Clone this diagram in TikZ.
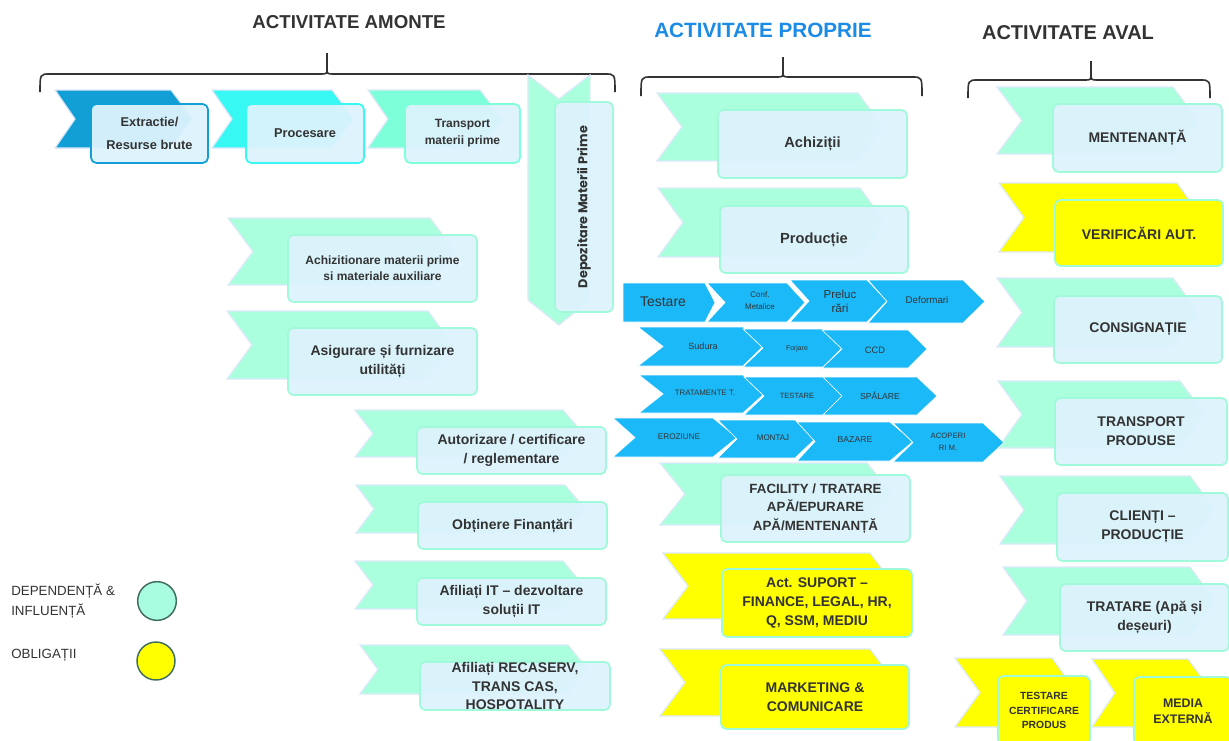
\documentclass[tikz,border=0pt]{standalone}
\usepackage{fontspec}
\setmainfont{Liberation Sans}
\newfontfamily\popp{Poppins}
\usetikzlibrary{fit}
\definecolor{tdark}{HTML}{333333}
\definecolor{tblue}{HTML}{1A8BE6}
\definecolor{mint}{HTML}{AAFFDD}
\definecolor{mintb}{HTML}{A0FADA}
\definecolor{boxf}{HTML}{DDF3FD}
\definecolor{chline}{HTML}{DCE8FA}
\definecolor{dblue}{HTML}{129FD6}
\definecolor{cyanc}{HTML}{38F8F4}
\definecolor{aqua}{HTML}{7DFFD9}
\definecolor{skyb}{HTML}{1CB9F8}
\definecolor{yel}{HTML}{FFFF00}
\definecolor{legg}{HTML}{3F6E5E}
\definecolor{legm}{HTML}{A8FCE0}
\newcommand\fsz[2]{\fontsize{#1}{#2}\selectfont}
\tikzset{
 chev/.style={fill=mint, draw=chline, line width=0.9pt, line join=miter},
 ychev/.style={chev, fill=yel},
 bchev/.style={fill=skyb, draw=white, line width=0.5pt},
 ebox/.style={draw=mintb, line width=1.3pt, fill=boxf, fill opacity=0.94, rounded corners=4pt, inner sep=0pt},
 ybox/.style={ebox, fill=yel, fill opacity=1},
 lbl/.style={text=tdark, font=\bfseries\fsz{10.5}{14.25}, align=center, inner sep=0pt},
 blbl/.style={text=tdark, align=center, inner sep=0pt},
 ttl/.style={font=\bfseries\fsz{15}{18}, inner sep=0pt},
 brc/.style={draw=tdark, line width=1.2pt},
}
% #2 L, #3 T, #4 R, #5 B, #6 notch, #7 tip
\newcommand\chv[7][chev]{\pgfmathsetmacro\chM{(#3+#5)/2}\path[#1] (#2,#3) -- (#4,#3) -- ({#4+#7},\chM) -- (#4,#5) -- (#2,#5) -- ({#2+#6},\chM) -- cycle;}
% #2 name, #3 x1, #4 y1, #5 x2, #6 y2, #7 font opts, #8 text
\newcommand\ebx[8][ebox]{\node[#1, fit={(#3,#4) (#5,#6)}] (#2) {};\node[lbl,#7] (#2-t) at (#2.center) {#8};}
\newcommand\brce[6]{% x0 x1 xm y yend ytip
 \draw[brc] (#1,#5) .. controls (#1,#4) .. ({#1+10},#4) -- ({#3-6},#4) .. controls (#3,#4) .. (#3,{#4-7}) -- (#3,#6);
 \draw[brc] (#3,{#4-7}) .. controls (#3,#4) .. ({#3+6},#4) -- ({#2-10},#4) .. controls (#2,#4) .. (#2,#5);}
\begin{document}
\begin{tikzpicture}[x=0.75pt,y=-0.75pt]
\useasboundingbox (0,0) rectangle (1229,740);
\fill[white] (0,0) rectangle (1229,740);
\clip (0,0) rectangle (1229,740);

% titles and braces
\node[ttl, font=\bfseries\fsz{14}{16}, text=tdark] (tam) at (349,22) {ACTIVITATE AMONTE};
\node[ttl, font=\bfseries\fsz{15.5}{18}, text=tblue] (tpr) at (763,30) {ACTIVITATE PROPRIE};
\node[ttl, text=tdark] (tav) at (1068,33) {ACTIVITATE AVAL};
\brce{40}{615}{327}{74}{92}{53}
\brce{641}{922}{783}{77}{96}{57}
\brce{968}{1210}{1091}{80}{98}{61}

% ---- amonte
\chv[chev, fill=dblue]{55}{90}{171}{148}{20}{22}
\ebx[ebox, draw=dblue]{extr}{91}{104}{208}{163}{font=\bfseries\fsz{9.6}{17}}{Extractie/\\Resurse brute}
\chv[chev, fill=cyanc]{212}{90}{332}{148}{20}{22}
\ebx[ebox, draw=cyanc]{proc}{246}{104}{364}{163}{font=\bfseries\fsz{9.6}{17}}{Procesare}
\chv[chev, fill=aqua]{368}{90}{480}{148}{20}{22}
\ebx[ebox, draw=aqua]{trmp}{405}{104}{520}{163}{font=\bfseries\fsz{9}{12.75}}{Transport\\materii prime}
\path[chev] (528,75) -- (559,99) -- (590,75) -- (590,300) -- (559,325) -- (528,300) -- cycle;
\node[ebox, fit={(555,102) (613,312)}] (depo) {};
\node[lbl, rotate=90, font=\popp\bfseries\fsz{9.6}{11}] (depo-t) at (depo.center) {Depozitare Materii Prime};

\chv{228}{218}{430}{285}{25}{25}
\ebx{achm}{288}{235}{477}{302}{font=\bfseries\fsz{9}{12}}{Achizitionare materii prime\\si materiale auxiliare}
\chv{227}{311}{428}{379}{25}{25}
\ebx{asig}{288}{328}{477}{395}{}{Asigurare și furnizare\\utilități}
\chv{355}{410}{563}{457}{18}{20}
\ebx{auto}{417}{427}{606}{474}{}{Autorizare / certificare\\/ reglementare}
\chv{356}{485}{565}{533}{18}{20}
\ebx{obt}{418}{502}{607}{549}{}{Obținere Finanțări}
\chv{355}{561}{563}{609}{18}{20}
\ebx{afit}{417}{578}{606}{625}{}{Afiliați IT – dezvoltare\\soluții IT}
\chv{360}{645}{568}{694}{18}{20}
\ebx{afrc}{420}{662}{610}{710}{font=\bfseries\fsz{10.5}{13.9}}{Afiliați RECASERV,\\TRANS CAS,\\HOSPOTALITY}

% ---- proprie
\chv{657}{93}{858}{161}{25}{25}
\ebx{achz}{718}{110}{907}{178}{font=\bfseries\fsz{11}{14}}{Achiziții}
\chv{658}{188}{860}{257}{25}{25}
\ebx{prod}{720}{206}{908}{273}{font=\bfseries\fsz{11}{14}}{Producție}
\chv{660}{463}{867}{525}{25}{25}
\ebx{facl}{721}{475}{910}{542}{font=\bfseries\fsz{10}{13.9}}{FACILITY / TRATARE\\APĂ/EPURARE\\APĂ/MENTENANȚĂ}
\chv[ychev]{663}{553}{870}{619}{25}{25}
\ebx[ybox]{supt}{722}{569}{912}{637}{}{Act. SUPORT –\\FINANCE, LEGAL, HR,\\Q, SSM, MEDIU}
\chv[ychev]{660}{649}{870}{716}{25}{25}
\ebx[ybox]{mark}{721}{665}{909}{729}{}{MARKETING \&\\COMUNICARE}

% ---- aval
\chv{997}{87}{1173}{154}{25}{25}
\ebx{ment}{1053}{104}{1222}{172}{}{MENTENANȚĂ}
\chv[ychev]{999}{183}{1177}{252}{25}{25}
\ebx[ybox]{verf}{1055}{200}{1223}{266}{}{VERIFICĂRI AUT.}
\chv{997}{278}{1173}{347}{25}{25}
\ebx{cons}{1054}{296}{1222}{363}{}{CONSIGNAȚIE}
\chv{998}{381}{1180}{448}{24}{25}
\ebx{trpr}{1055}{398}{1227}{465}{}{TRANSPORT\\PRODUSE}
\chv{1000}{476}{1190}{544}{24}{25}
\ebx{clnt}{1057}{493}{1228}{561}{}{CLIENȚI –\\PRODUCȚIE}
\chv{1003}{567}{1190}{635}{24}{25}
\ebx{trat}{1060}{584}{1229}{651}{}{TRATARE (Apă și\\deșeuri)}
\chv[ychev]{955}{658}{1052}{727}{25}{25}
\ebx[ybox]{tcp}{998}{676}{1090}{745}{font=\bfseries\fsz{7.8}{10.9}}{TESTARE\\CERTIFICARE\\PRODUS}
\chv[ychev]{1092}{659}{1188}{727}{23}{25}
\ebx[ybox]{medx}{1134}{677}{1232}{745}{font=\bfseries\fsz{9.3}{12}}{MEDIA\\EXTERNĂ}

% ---- blue process rows
\chv[bchev]{623}{283}{705}{322}{0}{10}
\node[blbl, font=\fsz{10.5}{12}] (tst) at (663,302) {Testare};
\chv[bchev]{707}{283}{787}{322}{18}{18}
\node[blbl, font=\fsz{6}{9}] (cfm) at (760,301) {Conf.\\Metalice};
\chv[bchev]{790}{280}{867}{322}{19}{20}
\node[blbl, font=\fsz{8.7}{10.5}] (prl) at (840,301) {Preluc\\rări};
\chv[bchev]{868}{280}{963}{323}{19}{22}
\node[blbl, font=\fsz{7.3}{9}] (dfm) at (927,300) {Deformari};

\chv[bchev]{638}{327}{743}{366}{25}{20}
\node[blbl, font=\fsz{6.8}{8}] (sud) at (703,346) {Sudura};
\chv[bchev]{743}{329}{823}{367}{20}{19}
\node[blbl, font=\fsz{5.2}{6}] (frj) at (797,349) {Forjare};
\chv[bchev]{822}{330}{908}{368}{20}{19}
\node[blbl, font=\fsz{7}{8}] (ccd) at (875,350) {CCD};

\chv[bchev]{639}{375}{743}{413}{24}{21}
\node[blbl, font=\fsz{5.9}{7}] (trt) at (705,393) {TRATAMENTE T.};
\chv[bchev]{744}{377}{823}{415}{20}{19}
\node[blbl, font=\fsz{5.7}{7}] (tsr) at (797,396) {TESTARE};
\chv[bchev]{823}{377}{917}{415}{19}{20}
\node[blbl, font=\fsz{6.5}{7}] (spl) at (880,396) {SPĂLARE};

\chv[bchev]{613}{418}{713}{457}{22}{24}
\node[blbl, font=\fsz{6.1}{7}] (erz) at (679,437) {EROZIUNE};
\chv[bchev]{718}{420}{795}{458}{19}{20}
\node[blbl, font=\fsz{6}{7}] (mnt) at (773,438) {MONTAJ};
\chv[bchev]{797}{422}{890}{461}{18}{23}
\node[blbl, font=\fsz{6.5}{7}] (bzr) at (855,440) {BAZARE};
\chv[bchev]{893}{423}{983}{462}{20}{21}
\node[blbl, font=\fsz{5.8}{9}] (acp) at (948,442) {ACOPERI\\RI M.};

% ---- legend
\node[anchor=west, align=left, text=tdark, font=\fsz{10}{15}, inner sep=0pt] (lg1) at (11,601) {DEPENDENȚĂ \&\\INFLUENȚĂ};
\node[circle, minimum size=29pt, inner sep=0pt, fill=legm, draw=legg, line width=1.1pt] (c1) at (157,601) {};
\node[anchor=west, text=tdark, font=\fsz{10}{12}, inner sep=0pt] (lg2) at (11,655) {OBLIGAȚII};
\node[circle, minimum size=28.5pt, inner sep=0pt, fill=yel, draw=legg, line width=1.1pt] (c2) at (156,661) {};
\end{tikzpicture}
\end{document}
